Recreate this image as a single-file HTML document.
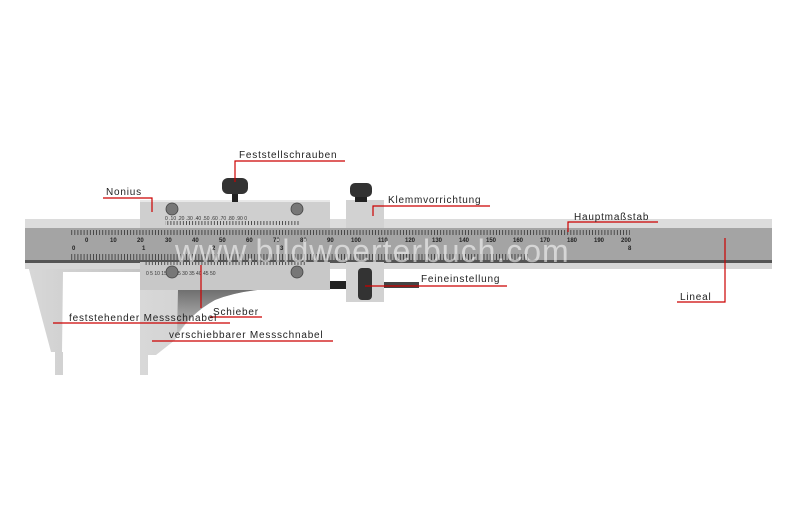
<!DOCTYPE html>
<html><head><meta charset="utf-8"><style>
html,body{margin:0;padding:0;background:#fff;}
svg{display:block}
text.l{font-family:"Liberation Sans",sans-serif;font-size:10px;letter-spacing:0.8px;fill:#222}
</style></head><body>
<svg width="800" height="527" viewBox="0 0 800 527" xmlns="http://www.w3.org/2000/svg">
<defs>
<linearGradient id="jaw" x1="0" y1="0" x2="1" y2="0"><stop offset="0" stop-color="#d8d8d8"/><stop offset="1" stop-color="#c4c4c4"/></linearGradient>
<linearGradient id="arc" x1="0" y1="0" x2="0" y2="1"><stop offset="0" stop-color="#5a5a5a"/><stop offset="1" stop-color="#c8c8c8"/></linearGradient>
<pattern id="tick" width="3.1" height="10" patternUnits="userSpaceOnUse"><rect x="0" y="0" width="0.8" height="5" fill="#333"/></pattern>
<pattern id="tick2" width="3.1" height="10" patternUnits="userSpaceOnUse"><rect x="0" y="4" width="0.8" height="6" fill="#333"/></pattern>
</defs>
<!-- fixed jaw -->
<path d="M27 262 L140 262 L140 272 L63 272 L62 352 L63 352 L63 375 L55 375 L55 352 L51 352 Z" fill="url(#jaw)"/>
<!-- moving jaw -->
<path d="M140 290 L325 290 Q255 284 215 300 Q188 315 175 340 L156 355 L148 355 L148 375 L140 375 Z" fill="url(#jaw)"/>
<path d="M178 290 L322 290 Q255 284 215 300 Q190 314 177 335 Z" fill="url(#arc)" opacity="0.85"/>
<!-- ruler -->
<rect x="25" y="219" width="747" height="9" fill="#dcdcdc"/>
<rect x="25" y="228" width="747" height="34" fill="#a4a4a4"/>
<rect x="25" y="260" width="747" height="3" fill="#555"/>
<rect x="25" y="263" width="747" height="6" fill="#d6d6d6"/>
<rect x="70" y="228" width="560" height="7" fill="url(#tick)"/>
<rect x="70" y="250" width="460" height="10" fill="url(#tick2)"/>
<g font-family="Liberation Sans,sans-serif" font-size="6" font-weight="bold" fill="#222">
<text x="85" y="242">0</text><text x="110" y="242">10</text><text x="137" y="242">20</text><text x="165" y="242">30</text><text x="192" y="242">40</text><text x="219" y="242">50</text><text x="246" y="242">60</text><text x="273" y="242">70</text><text x="300" y="242">80</text><text x="327" y="242">90</text><text x="351" y="242">100</text><text x="378" y="242">110</text><text x="405" y="242">120</text><text x="432" y="242">130</text><text x="459" y="242">140</text><text x="486" y="242">150</text><text x="513" y="242">160</text><text x="540" y="242">170</text><text x="567" y="242">180</text><text x="594" y="242">190</text><text x="621" y="242">200</text>
<text x="72" y="250">0</text><text x="142" y="250">1</text><text x="212" y="250">2</text><text x="280" y="250">3</text><text x="628" y="250">8</text>
</g>
<!-- slider -->
<rect x="140" y="200" width="190" height="28" fill="#cfcfcf"/>
<rect x="140" y="200" width="190" height="2" fill="#e8e8e8"/>
<rect x="140" y="262" width="190" height="28" fill="#c8c8c8"/>
<rect x="140" y="260" width="190" height="2" fill="#555"/>
<rect x="165" y="221" width="135" height="7" fill="url(#tick)"/>
<rect x="145" y="262" width="160" height="6" fill="url(#tick)"/>
<g font-family="Liberation Sans,sans-serif" font-size="5" fill="#333">
<text x="165" y="220">0 .10 .20 .30 .40 .50 .60 .70 .80 .90 0</text>
<text x="146" y="275">0    5    10   15   20   25   30   35   40   45   50</text>
</g>
<g fill="#777" stroke="#444" stroke-width="0.8">
<circle cx="172" cy="209" r="6"/><circle cx="297" cy="209" r="6"/><circle cx="172" cy="272" r="6"/><circle cx="297" cy="272" r="6"/>
</g>
<!-- knob top -->
<rect x="232" y="192" width="6" height="10" fill="#222"/>
<rect x="222" y="178" width="26" height="16" rx="6" fill="#333"/>
<!-- clamp -->
<rect x="346" y="200" width="38" height="28" fill="#d2d2d2"/>
<rect x="346" y="262" width="38" height="40" fill="#d2d2d2"/>
<rect x="346" y="260" width="38" height="2" fill="#555"/>
<rect x="355" y="192" width="12" height="10" fill="#222"/>
<rect x="350" y="183" width="22" height="14" rx="5" fill="#333"/>
<rect x="330" y="281" width="16" height="8" fill="#222"/>
<rect x="384" y="282" width="35" height="6" fill="#444"/>
<rect x="358" y="268" width="14" height="32" rx="4" fill="#333"/>
<!-- watermark -->
<text x="175" y="262" font-family="Liberation Sans,sans-serif" font-size="32" fill="#fff" fill-opacity="0.55" letter-spacing="1">www.bildwoerterbuch.com</text>
<!-- leaders -->
<g stroke="#c00" stroke-width="1.2" fill="none">
<path d="M235 182 V161 H345"/>
<path d="M152 212 V198 H103"/>
<path d="M373 216 V206 H490"/>
<path d="M568 232 V222 H658"/>
<path d="M365 286 H507"/>
<path d="M725 238 V302 H677"/>
<path d="M201 265 V308"/>
<path d="M210 317 H262"/>
<path d="M53 323 H230"/>
<path d="M152 341 H333"/>
</g>
<g>
<text class="l" x="239" y="158">Feststellschrauben</text>
<text class="l" x="106" y="195">Nonius</text>
<text class="l" x="388" y="203">Klemmvorrichtung</text>
<text class="l" x="574" y="220">Hauptmaßstab</text>
<text class="l" x="421" y="282">Feineinstellung</text>
<text class="l" x="680" y="300">Lineal</text>
<text class="l" x="69" y="321">feststehender Messschnabel</text>
<text class="l" x="213" y="315">Schieber</text>
<text class="l" x="169" y="338">verschiebbarer Messschnabel</text>
</g>
</svg>
</body></html>
